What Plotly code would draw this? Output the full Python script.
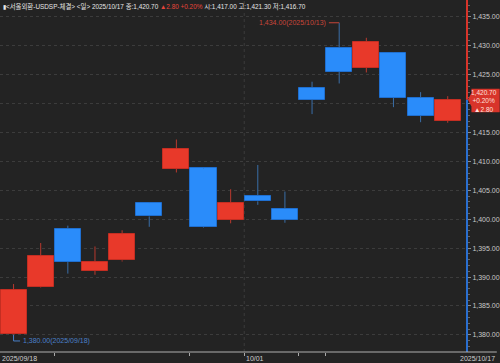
import plotly.graph_objects as go

dates = ["2025/09/18", "09/19", "09/22", "09/23", "09/24", "09/25", "09/26", "09/29", "09/30",
         "10/01", "10/02", "10/10", "10/13", "10/14", "10/15", "10/16", "2025/10/17"]
opens = [1380.1, 1388.3, 1398.4, 1391.1, 1392.9, 1402.8, 1408.7, 1408.8, 1399.9,
         1404.1, 1401.8, 1422.8, 1429.7, 1426.2, 1428.8, 1421.0, 1417.0]
highs = [1388.8, 1395.9, 1398.9, 1395.3, 1398.1, 1402.9, 1413.8, 1408.9, 1405.2,
         1409.4, 1404.8, 1423.8, 1434.0, 1431.4, 1428.9, 1422.0, 1421.3]
lows = [1380.0, 1388.2, 1390.6, 1390.4, 1392.7, 1398.7, 1408.1, 1398.5, 1399.3,
        1402.5, 1399.4, 1418.2, 1423.5, 1425.4, 1419.4, 1416.8, 1416.7]
closes = [1387.8, 1393.6, 1392.6, 1392.6, 1397.4, 1400.5, 1412.2, 1398.6, 1402.8,
          1403.1, 1399.9, 1420.7, 1425.5, 1430.7, 1421.0, 1417.9, 1420.7]

y_ticks = [1380, 1385, 1390, 1395, 1400, 1405, 1410, 1415, 1420, 1425, 1430, 1435]
week_ticks = [1.5, 6.5, 8.5, 10.5, 11.5]

last_close = 1420.70
change = 2.80
change_pct = 0.20
header = ("▮&lt;서울외환-USDSP-체결&gt; &lt;일&gt; 2025/10/17 종:1,420.70 "
          "<span style='color:#e8453a'>▲2.80 +0.20%</span> 시:1,417.00 고:1,421.30 저:1,416.70")

RED = "#e8392a"
RED_EDGE = "#c42e22"
RED_WICK = "#b8392e"
BLUE = "#2a8cfa"
BLUE_EDGE = "#1f6fd0"
BLUE_WICK = "#3a6ea8"
BG = "#232323"
GRID = "#3c3c3c"

n = len(dates)
idx = list(range(n))
up = [c >= o for o, c in zip(opens, closes)]

fig = go.Figure()

# wicks (split so they don't cross bodies)
for color, flag in ((RED_WICK, True), (BLUE_WICK, False)):
    xs, ys = [], []
    for i in idx:
        if up[i] != flag:
            continue
        top = max(opens[i], closes[i])
        bot = min(opens[i], closes[i])
        xs += [i, i, None, i, i, None]
        ys += [highs[i], top, None, bot, lows[i], None]
    fig.add_trace(go.Scatter(x=xs, y=ys, mode="lines", line=dict(color=color, width=1),
                             hoverinfo="skip"))

# bodies
fig.add_trace(go.Bar(
    x=idx,
    base=[min(o, c) for o, c in zip(opens, closes)],
    y=[max(abs(c - o), 0.15) for o, c in zip(opens, closes)],
    width=0.96,
    marker=dict(color=[RED if u else BLUE for u in up],
                line=dict(color=[RED_EDGE if u else BLUE_EDGE for u in up], width=1)),
))

ymin, ymax = 1377.04, 1437.94

fig.update_layout(
    width=500, height=363,
    margin=dict(l=0, r=30, t=0, b=11),
    paper_bgcolor=BG, plot_bgcolor=BG,
    showlegend=False, bargap=0,
    xaxis=dict(range=[-0.5, 16.71], showgrid=False, zeroline=False,
               tickvals=week_ticks, ticktext=[""] * len(week_ticks),
               ticks="outside", ticklen=3, tickcolor="#aaaaaa", showline=False,
               fixedrange=True),
    yaxis=dict(range=[ymin, ymax], side="right", zeroline=False,
               tickvals=y_ticks,
               ticktext=["" if v == 1420 else f"{v:,.2f}" for v in y_ticks],
               ticks="outside", ticklen=3, tickcolor="#8a8a8a",
               tickfont=dict(size=7, color="#c8c8c8", family="Liberation Sans"),
               showgrid=True, gridcolor=GRID, griddash="dot", gridwidth=1,
               minor=dict(dtick=1, ticks="outside", ticklen=2, tickcolor="#666666", showgrid=False),
               showline=False),
)

shapes = []
# price axis line, red above last close, blue below
shapes.append(dict(type="line", xref="paper", yref="y", x0=1, x1=1, y0=last_close, y1=ymax,
                   line=dict(color="#d8342a", width=2)))
shapes.append(dict(type="line", xref="paper", yref="y", x0=1, x1=1, y0=ymin, y1=last_close,
                   line=dict(color="#2a6fd0", width=2)))
# bottom axis line across full width
shapes.append(dict(type="line", xref="paper", yref="paper", x0=0, x1=500 / 470, y0=0, y1=0,
                   line=dict(color="#b0b0b0", width=1)))
# month grid line
shapes.append(dict(type="line", xref="x", yref="paper", x0=8.5, x1=8.5, y0=0, y1=1,
                   line=dict(color=GRID, width=1, dash="dot"), layer="below"))
# price tag
shapes.append(dict(type="path", xref="paper", yref="y",
                   path="M 1.002,1420.7 L 1.0095,1421.9 L 1.0095,1422.6 L 1.07,1422.6 "
                        "L 1.07,1418.5 L 1.0095,1418.5 L 1.0095,1419.5 Z",
                   fillcolor="#d8342a", line=dict(width=0)))
# low connector
shapes.append(dict(type="line", xref="x", yref="y", x0=0, x1=0, y0=lows[0], y1=1378.95,
                   line=dict(color="#4a80c8", width=1)))
shapes.append(dict(type="line", xref="x", yref="y", x0=0, x1=0.24, y0=1378.95, y1=1378.95,
                   line=dict(color="#4a80c8", width=1)))
# high connector
shapes.append(dict(type="line", xref="x", yref="y", x0=11.62, x1=12, y0=highs[12], y1=highs[12],
                   line=dict(color="#c8463a", width=1)))
fig.update_layout(shapes=shapes)

ann = []
ann.append(dict(xref="paper", yref="paper", x=0.002, y=1, xanchor="left", yanchor="top",
                text=header, showarrow=False,
                font=dict(family="Liberation Sans, Noto Sans CJK KR", size=6.4, color="#e6e6e6")))
ann.append(dict(xref="paper", yref="y", x=1.037, y=1420.55, xanchor="center", yanchor="middle",
                text=f"{last_close:,.2f}<br>+{change_pct:.2f}%<br>▲{change:.2f}", showarrow=False,
                font=dict(family="Liberation Sans", size=6.5, color="#ffe0dc")))
ann.append(dict(xref="x", yref="y", x=0.27, y=1378.95, xanchor="left", yanchor="middle",
                text=f"{lows[0]:,.2f}({dates[0]})", showarrow=False,
                font=dict(family="Liberation Sans", size=7, color="#4a80c8")))
ann.append(dict(xref="x", yref="y", x=11.6, y=highs[12], xanchor="right", yanchor="middle",
                text=f"{highs[12]:,.2f}(2025/10/13)", showarrow=False,
                font=dict(family="Liberation Sans", size=7, color="#c8463a")))
# x labels
ann.append(dict(xref="paper", yref="paper", x=0, y=0, xanchor="left", yanchor="top", yshift=-1,
                text=dates[0], showarrow=False,
                font=dict(family="Liberation Sans", size=7, color="#d0d0d0")))
ann.append(dict(xref="x", yref="paper", x=8.5, y=0, xanchor="left", yanchor="top", yshift=-1,
                text=dates[9], showarrow=False,
                font=dict(family="Liberation Sans", size=7, color="#d0d0d0")))
ann.append(dict(xref="paper", yref="paper", x=500 / 470, y=0, xanchor="right", yanchor="top", yshift=-1,
                text=dates[-1], showarrow=False,
                font=dict(family="Liberation Sans", size=7, color="#d0d0d0")))
fig.update_layout(annotations=ann)

fig.write_html("out.html")
